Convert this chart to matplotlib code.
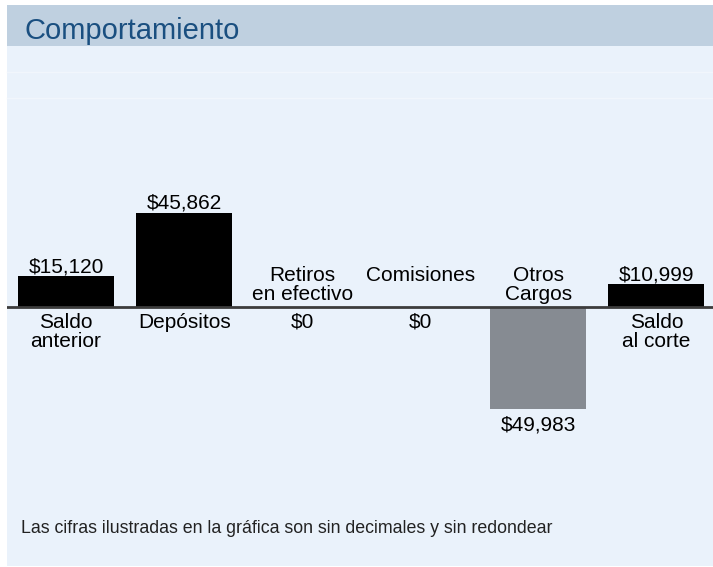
import matplotlib
matplotlib.use("Agg")
import matplotlib.pyplot as plt
from matplotlib.patches import Rectangle
from matplotlib.lines import Line2D

# ---- data ----
categories = ["Saldo\nanterior", "Depósitos", "Retiros\nen efectivo", "Comisiones", "Otros\nCargos", "Saldo\nal corte"]
values = [15120, 45862, 0, 0, -49983, 10999]
value_labels = ["$15,120", "$45,862", "$0", "$0", "$49,983", "$10,999"]
title = "Comportamiento"
footnote = "Las cifras ilustradas en la gráfica son sin decimales y sin redondear"

# ---- style ----
W, H, DPI = 713, 567, 100
FONT = "Liberation Sans"
POS_COLOR = "#000000"
NEG_COLOR = "#868b92"
HEADER_BG = "#bfd0e0"
BODY_BG = "#eaf2fb"
TITLE_COLOR = "#1a4f80"

plt.rcParams["font.family"] = [FONT, "DejaVu Sans"]

fig = plt.figure(figsize=(W / DPI, H / DPI), dpi=DPI, facecolor="white")


def fx(px):
    return px / W


def fy(py):
    return 1 - py / H


# panel background + header band
fig.patches.append(Rectangle((fx(7), fy(566)), fx(713) - fx(7), fy(46) - fy(566),
                             transform=fig.transFigure, facecolor=BODY_BG, edgecolor="none", zorder=0))
fig.patches.append(Rectangle((fx(7), fy(46)), fx(713) - fx(7), fy(5) - fy(46),
                             transform=fig.transFigure, facecolor=HEADER_BG, edgecolor="none", zorder=0))
for yy in (72, 98):
    fig.lines.append(Line2D([fx(7), fx(713)], [fy(yy), fy(yy)], transform=fig.transFigure,
                            color="#f1f6fc", lw=1, zorder=1))

fig.text(fx(24), fy(39), title, fontsize=21, color=TITLE_COLOR, va="baseline", ha="left")
fig.text(fx(21), fy(533), footnote, fontsize=12.8, color="#222222", va="baseline", ha="left")

# axes spanning panel body
left, right, top, bottom = 7, 715.5, 46, 566
baseline_px = 307
units_per_px = 1 / 0.00205
ax = fig.add_axes([fx(left), fy(bottom), fx(right) - fx(left), fy(top) - fy(bottom)])
ax.set_zorder(5)
ax.patch.set_visible(False)
ax.set_xlim(-0.5, len(categories) - 0.5)
ax.set_ylim(-(bottom - baseline_px) * units_per_px, (baseline_px - top) * units_per_px)
ax.axis("off")

x = list(range(len(categories)))
colors = [POS_COLOR if v > 0 else NEG_COLOR for v in values]
ax.bar(x, values, width=0.813, color=colors, linewidth=0, zorder=2)
ax.axhline(0, color="#3c3c3c", lw=2, zorder=3)

fs = 15
ls = 1.03
for xi, v, cat, lab in zip(x, values, categories, value_labels):
    if v > 0:
        ax.annotate(lab, (xi, v), xytext=(0, 4), textcoords="offset pixels",
                    ha="center", va="baseline", fontsize=fs)
        ax.annotate(cat, (xi, 0), xytext=(0, -6), textcoords="offset pixels",
                    ha="center", va="top", fontsize=fs, linespacing=ls)
    else:
        ax.annotate(cat, (xi, 0), xytext=(0, 41), textcoords="offset pixels",
                    ha="center", va="top", fontsize=fs, linespacing=ls)
        ax.annotate(lab, (xi, v), xytext=(0, -6), textcoords="offset pixels",
                    ha="center", va="top", fontsize=fs)

fig.savefig("out.png", dpi=DPI, facecolor="white")
